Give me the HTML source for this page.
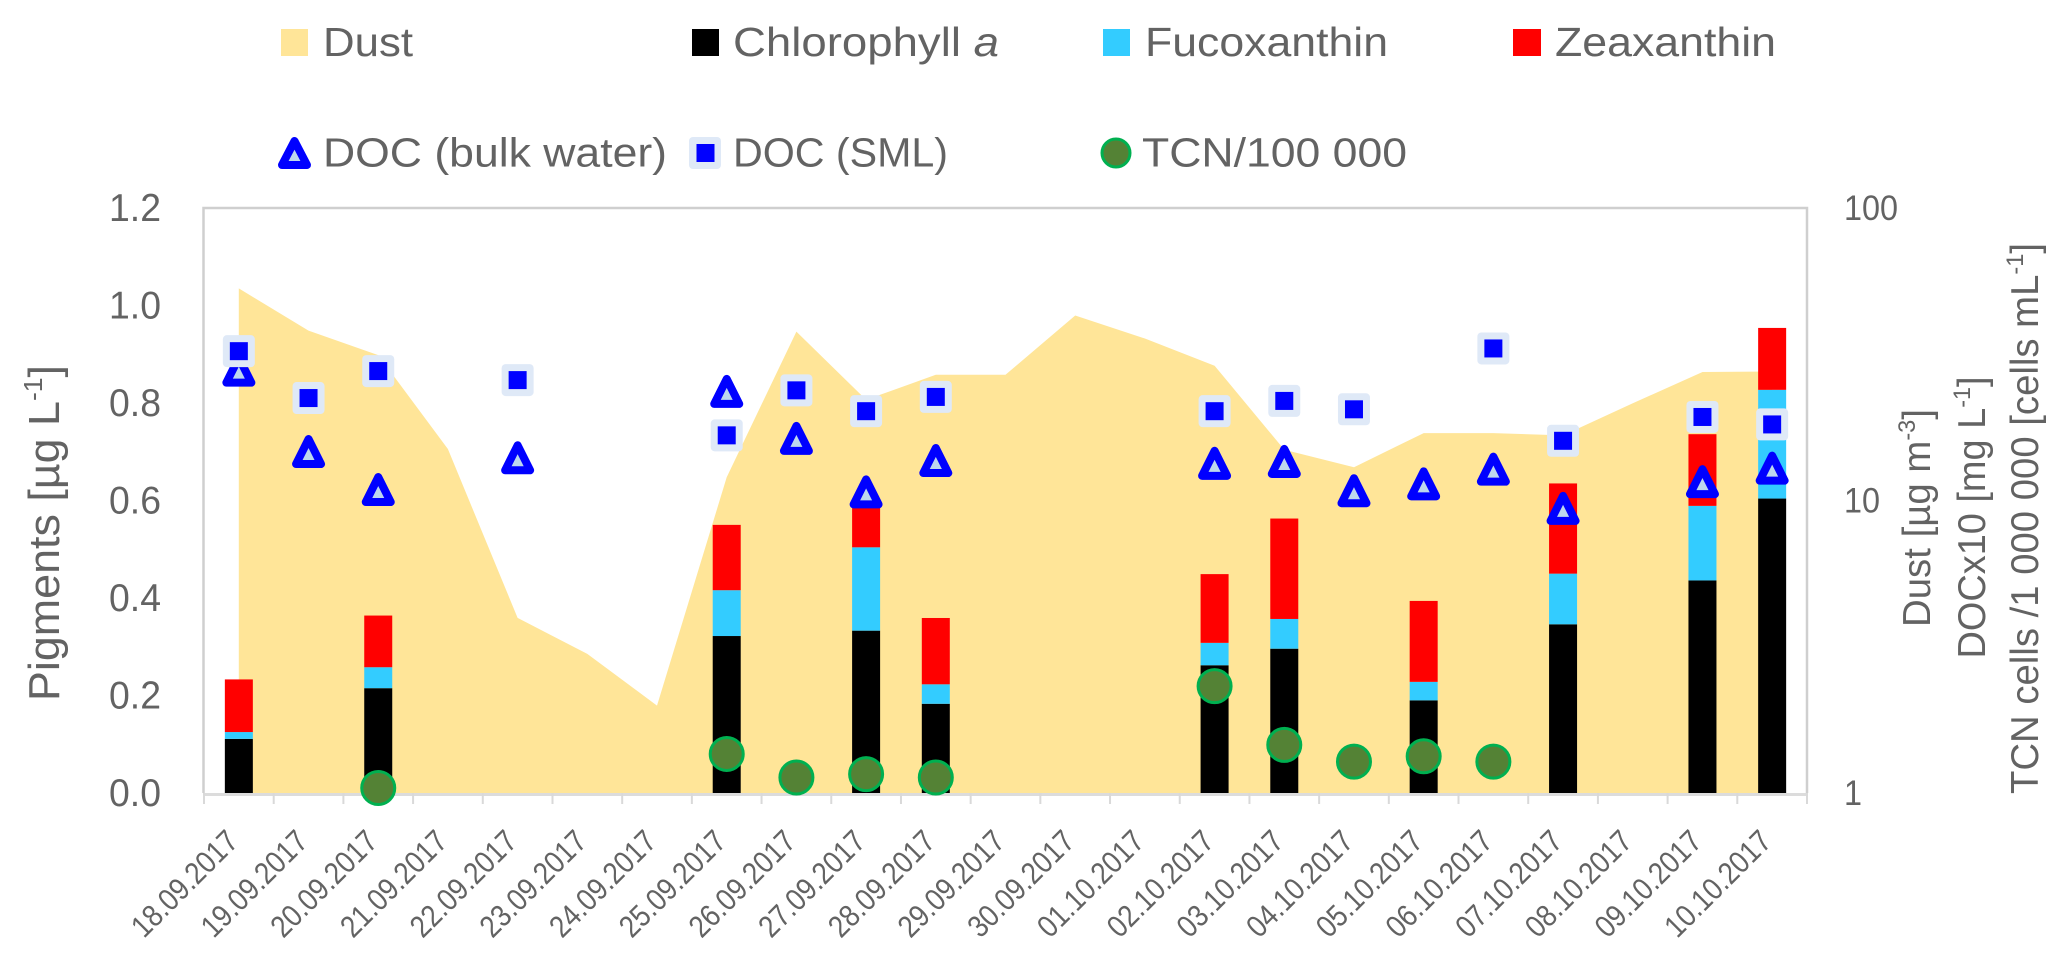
<!DOCTYPE html>
<html lang="en">
<head>
<meta charset="utf-8">
<title>Pigments, dust, DOC and TCN time series</title>
<style>
  html, body { margin: 0; padding: 0; background: #ffffff; }
  svg { display: block; }
  text { font-family: "Liberation Sans", "DejaVu Sans", sans-serif; fill: #636363; }
</style>
</head>
<body>
<svg id="chart" xmlns="http://www.w3.org/2000/svg" width="2068" height="964" viewBox="0 0 2068 964">
  <rect x="0" y="0" width="2068" height="964" fill="#ffffff"/>

  <g id="plot"></g>

  <g>
    <g>
      <rect x="281" y="29" width="27" height="27" fill="#ffe598"/>
      <text x="323" y="56" font-size="41" textLength="90" lengthAdjust="spacingAndGlyphs">Dust</text>
    </g>
    <g>
      <rect x="692" y="29" width="27" height="27" fill="#000000"/>
      <text x="733" y="56" font-size="41" textLength="266" lengthAdjust="spacingAndGlyphs">Chlorophyll <tspan font-style="italic">a</tspan></text>
    </g>
    <g>
      <rect x="1103" y="29" width="27" height="27" fill="#33ccff"/>
      <text x="1145" y="56" font-size="41" textLength="243" lengthAdjust="spacingAndGlyphs">Fucoxanthin</text>
    </g>
    <g>
      <rect x="1513" y="29" width="28" height="27" fill="#ff0000"/>
      <text x="1555" y="56" font-size="41" textLength="221" lengthAdjust="spacingAndGlyphs">Zeaxanthin</text>
    </g>
    <g>
      <path d="M294.5 141 L307 165 L282 165 Z" fill="#bdd7ee" stroke="#0000ff" stroke-width="8" stroke-linejoin="round"/>
      <text x="323" y="166.5" font-size="41" textLength="344" lengthAdjust="spacingAndGlyphs">DOC (bulk water)</text>
    </g>
    <g>
      <rect x="689" y="137" width="32" height="32" rx="4" fill="#dfe9f7"/>
      <rect x="696.5" y="144" width="18" height="18" fill="#0000ff"/>
      <text x="733" y="166.5" font-size="41" textLength="215" lengthAdjust="spacingAndGlyphs">DOC (SML)</text>
    </g>
    <g>
      <circle cx="1116" cy="153" r="14" fill="#548235" stroke="#00b050" stroke-width="3"/>
      <text x="1142" y="166.5" font-size="41" textLength="265" lengthAdjust="spacingAndGlyphs">TCN/100 000</text>
    </g>
  </g>

  <text transform="translate(59 701) rotate(-90)" font-size="44" textLength="336" lengthAdjust="spacingAndGlyphs">Pigments [µg L<tspan font-size="26" dy="-17">-1</tspan><tspan dy="17">]</tspan></text>
  <text transform="translate(1930 627) rotate(-90)" font-size="39" textLength="218" lengthAdjust="spacingAndGlyphs">Dust [µg m<tspan font-size="24" dy="-15">-3</tspan><tspan dy="15">]</tspan></text>
  <text transform="translate(1985 658.5) rotate(-90)" font-size="39" textLength="282" lengthAdjust="spacingAndGlyphs">DOCx10 [mg L<tspan font-size="24" dy="-15">-1</tspan><tspan dy="15">]</tspan></text>
  <text transform="translate(2038 794) rotate(-90)" font-size="39" textLength="551" lengthAdjust="spacingAndGlyphs">TCN cells /1 000 000 [cells mL<tspan font-size="24" dy="-15">-1</tspan><tspan dy="15">]</tspan></text>
</svg>

<script>
const dates = ["18.09.2017","19.09.2017","20.09.2017","21.09.2017","22.09.2017","23.09.2017","24.09.2017","25.09.2017","26.09.2017","27.09.2017","28.09.2017","29.09.2017","30.09.2017","01.10.2017","02.10.2017","03.10.2017","04.10.2017","05.10.2017","06.10.2017","07.10.2017","08.10.2017","09.10.2017","10.10.2017"];
const chlorophyll = [0.111,null,0.215,null,null,null,null,0.322,null,0.333,0.183,null,null,null,0.262,0.296,null,0.190,null,0.346,null,0.436,0.604];
const fucoxanthin = [0.014,null,0.043,null,null,null,null,0.094,null,0.171,0.040,null,null,null,0.046,0.061,null,0.038,null,0.104,null,0.153,0.223];
const zeaxanthin = [0.108,null,0.106,null,null,null,null,0.134,null,0.095,0.136,null,null,null,0.141,0.206,null,0.166,null,0.185,null,0.147,0.127];
const dust = [53.1,38.1,31.4,15.0,3.97,2.99,1.99,12.0,37.8,22.1,26.9,26.9,42.9,35.8,28.9,14.9,13.0,17.0,17.0,16.7,21.5,27.5,27.6];
const docBulk = [27.9,14.7,10.9,null,14.0,null,null,23.6,16.3,10.7,13.7,null,null,null,13.4,13.6,10.8,11.4,12.8,9.4,null,11.6,12.9];
const docSml = [32.4,22.4,27.7,null,25.8,null,null,16.7,23.8,20.2,22.6,null,null,null,20.2,21.9,20.5,null,33.1,16.0,null,19.3,18.2];
const tcn = [null,null,1.04,null,null,null,null,1.36,1.13,1.16,1.13,null,null,null,2.32,1.46,1.28,1.335,1.28,null,null,null,null];
const leftTicks = [0,0.2,0.4,0.6,0.8,1.0,1.2];
const rightTicks = [1,10,100];

const plotLeft = 204, plotRight = 1807, plotTop = 208, plotBottom = 793;
const leftMax = 1.2, rightDecades = 2;
const slotWidth = (plotRight - plotLeft) / dates.length;
const barWidth = 28;

function xSlot(i) { return plotLeft + slotWidth * i; }
function xCat(i) { return plotLeft + slotWidth * (i + 0.5); }
function yLeft(v) { return plotBottom - (plotBottom - plotTop) * v / leftMax; }
function yRight(v) { return plotBottom - (plotBottom - plotTop) * Math.log10(v) / rightDecades; }

const svgNS = "http://www.w3.org/2000/svg";
const plot = document.getElementById("plot");
function make(tag, props, parent) {
  const node = document.createElementNS(svgNS, tag);
  Object.keys(props).forEach(function (k) { node.setAttribute(k, props[k]); });
  (parent || plot).appendChild(node);
  return node;
}

/* plot frame */
let el = make("path", { d: "M" + (plotLeft - 0.5) + " " + plotBottom + " V" + plotTop + " H" + plotRight + " V" + plotBottom, fill: "none", stroke: "#cfcfcf", "stroke-width": 2.5 });



/* dust area */
const dustPoints = [[xCat(0), plotBottom]];
dust.forEach(function (v, i) { dustPoints.push([xCat(i), yRight(v)]); });
dustPoints.push([xCat(dust.length - 1), plotBottom]);
el = make("polygon", { points: dustPoints.map(function (p) { return p[0].toFixed(1) + "," + p[1].toFixed(1); }).join(" "), fill: "#ffe598" });



/* stacked bars */
dates.forEach(function (d, i) {
  if (chlorophyll[i] === null) return;
  const x = xCat(i) - barWidth / 2;
  const c = chlorophyll[i], f = fucoxanthin[i], z = zeaxanthin[i];
  let bar = make("rect", { x: x, y: yLeft(c), width: barWidth, height: yLeft(0) - yLeft(c), fill: "#000000" });
  
  
  bar = make("rect", { x: x, y: yLeft(c + f), width: barWidth, height: yLeft(c) - yLeft(c + f), fill: "#33ccff" });
  
  
  bar = make("rect", { x: x, y: yLeft(c + f + z), width: barWidth, height: yLeft(c + f) - yLeft(c + f + z), fill: "#ff0000" });
  
  
});

/* x axis */
el = make("line", { x1: plotLeft - 1, x2: plotRight + 1, y1: plotBottom + 1.5, y2: plotBottom + 1.5, stroke: "#dcdcdc", "stroke-width": 3 });


for (let i = 0; i <= dates.length; i++) {
  const tick = make("line", { x1: xSlot(i), x2: xSlot(i), y1: plotBottom, y2: plotBottom + 11, stroke: "#d9d9d9", "stroke-width": 2 });
  
  
}
dates.forEach(function (d, i) {
  const t = make("text", { transform: "translate(" + (xCat(i) + 1.2) + " 843) rotate(-45)", "text-anchor": "end", "font-size": 31, textLength: 136, lengthAdjust: "spacingAndGlyphs" });
  t.textContent = d;
  
  
});

/* y axis labels */
leftTicks.forEach(function (v) {
  const t = make("text", { x: 161, y: yLeft(v) + 13, "text-anchor": "end", "font-size": 38.5, textLength: 52, lengthAdjust: "spacingAndGlyphs" });
  t.textContent = v.toFixed(1);
  
  
});
rightTicks.forEach(function (v) {
  const label = String(v);
  const t = make("text", { x: 1844, y: yRight(v) + 12, "font-size": 35, textLength: label.length * 18, lengthAdjust: "spacingAndGlyphs" });
  t.textContent = label;
  
  
});

/* DOC bulk water triangles */
docBulk.forEach(function (v, i) {
  if (v === null) return;
  const cx = xCat(i), cy = yRight(v);
  const m = make("path", { d: "M" + cx + " " + (cy - 12.5) + " L" + (cx + 12.5) + " " + (cy + 12.5) + " L" + (cx - 12.5) + " " + (cy + 12.5) + " Z", fill: "#bdd7ee", stroke: "#0000ff", "stroke-width": 8, "stroke-linejoin": "round" });
  
  
});

/* DOC SML squares */
docSml.forEach(function (v, i) {
  if (v === null) return;
  const cx = xCat(i), cy = yRight(v);
  const g = make("g", {});
  
  
  make("rect", { x: cx - 16, y: cy - 16, width: 32, height: 32, rx: 4, fill: "#dfe9f7" }, g);
  make("rect", { x: cx - 9, y: cy - 9, width: 18, height: 18, fill: "#0000ff" }, g);
});

/* TCN circles */
tcn.forEach(function (v, i) {
  if (v === null) return;
  const m = make("circle", { cx: xCat(i), cy: yRight(v), r: 16.5, fill: "#548235", stroke: "#00b050", "stroke-width": 3 });
  
  
});
</script>
</body>
</html>
